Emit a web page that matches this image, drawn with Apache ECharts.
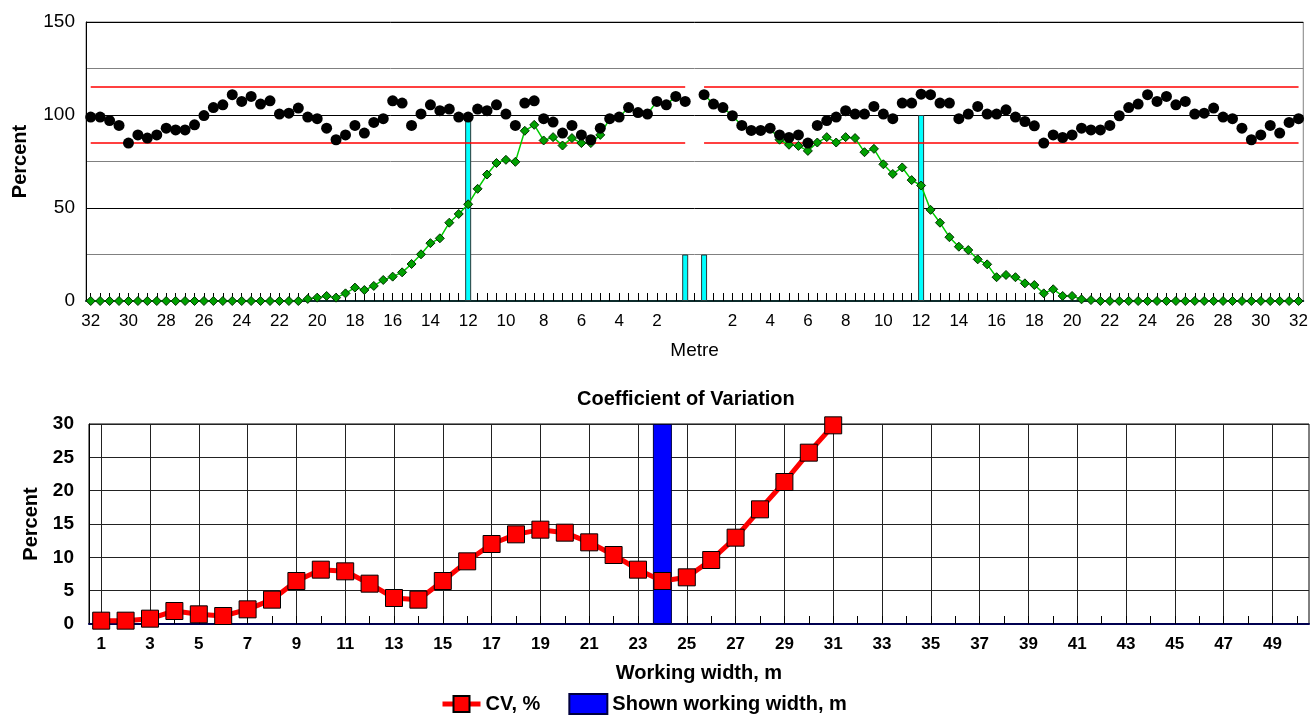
<!DOCTYPE html>
<html>
<head>
<meta charset="utf-8">
<title>Spread pattern and CV</title>
<script src="https://cdn.jsdelivr.net/npm/echarts@6/dist/echarts.min.js"></script>
<style>
  html, body { margin: 0; padding: 0; background: #fff; }
  #chart { width: 1311px; height: 716px; }
</style>
</head>
<body>
<div id="chart"></div>
<script>
// top chart: tray positions every 0.5 m, from -32 to 32 (0 is the tractor path)
var positions = [];
for (var i = 0; i <= 128; i++) {
  positions.push(String(-32 + i * 0.5));
}

// overlapped distribution (black dots)
var overlapped = [
  98.9, 98.9, 97.0, 94.4, 84.9, 89.3, 87.6, 89.3, 92.9, 92.0,
  92.0, 94.7, 99.7, 104.0, 105.5, 110.9, 107.3, 110.0, 105.9, 107.6,
  100.5, 101.0, 103.7, 98.9, 98.0, 92.9, 86.7, 89.3, 94.4, 90.3,
  96.0, 98.0, 107.6, 106.4, 94.4, 100.6, 105.5, 102.3, 103.2, 98.9,
  98.9, 103.2, 102.3, 105.5, 100.5, 94.4, 106.4, 107.6, 98.0, 96.2,
  90.3, 94.4, 89.3, 86.7, 92.9, 98.0, 98.9, 104.0, 101.3, 100.5,
  107.3, 105.5, 110.0, 107.3, null, 110.9, 105.9, 104.0, 99.6, 94.4,
  91.7, 91.7, 92.9, 89.3, 87.9, 89.3, 84.9, 94.4, 97.0, 98.9,
  102.3, 100.5, 100.5, 104.6, 100.5, 98.0, 106.4, 106.4, 111.2, 110.9,
  106.4, 106.4, 98.0, 100.5, 104.6, 100.5, 100.5, 102.8, 98.9, 96.5,
  94.2, 84.9, 89.3, 87.9, 89.3, 92.9, 92.0, 92.0, 94.4, 99.6,
  104.0, 105.9, 110.9, 107.3, 110.0, 105.5, 107.3, 100.5, 101.0, 103.7,
  98.9, 98.0, 92.9, 86.7, 89.3, 94.4, 90.3, 96.0, 98.0
];

// single pass pattern (green diamonds)
var singlePass = [
  0, 0, 0, 0, 0, 0, 0, 0, 0, 0,
  0, 0, 0, 0, 0, 0, 0, 0, 0, 0,
  0, 0, 0, 1.1, 1.8, 2.7, 1.8, 4.1, 7.2, 5.9,
  8.1, 11.3, 13.1, 15.4, 19.9, 25.1, 31.1, 33.7, 42.1, 46.8,
  52.0, 60.3, 68.0, 74.2, 75.9, 74.8, 91.5, 94.7, 86.3, 88.1,
  83.6, 87.6, 84.9, 84.9, 89.3, 98.0, 98.9, 104.0, 101.3, 100.5,
  107.3, 105.5, 110.0, 107.3, null, 110.9, 105.9, 104.0, 99.6, 94.4,
  91.7, 91.7, 92.9, 86.7, 84.0, 83.4, 80.7, 85.2, 88.1, 85.2,
  88.1, 87.6, 80.0, 81.8, 73.5, 68.3, 71.8, 65.0, 62.1, 49.0,
  42.1, 34.3, 29.2, 27.4, 22.4, 19.7, 12.8, 14.0, 12.8, 9.5,
  8.6, 4.1, 6.3, 2.7, 2.7, 0.9, 0.5, 0, 0, 0,
  0, 0, 0, 0, 0, 0, 0, 0, 0, 0,
  0, 0, 0, 0, 0, 0, 0, 0, 0
];

// cyan markers: working width edges and tractor wheels
var markerPositions = ['-12', '-0.5', '0.5', '12'];
var markerHeights = [100, 25, 25, 100];

// +/- 15 % limits, drawn on each side of the tractor path
var limitValues = [85, 115];
var limitSides = [['-32', '-0.5'], ['0.5', '32']];

// bottom chart: working widths 1..50 m
var widths = [];
for (var w = 1; w <= 50; w++) {
  widths.push(String(w));
}
var cvValues = [
  0.5, 0.5, 0.8, 1.95, 1.45, 1.2, 2.2, 3.65, 6.45, 8.15,
  7.9, 6.05, 3.9, 3.65, 6.45, 9.4, 12.0, 13.45, 14.15, 13.7,
  12.25, 10.35, 8.15, 6.45, 7.0, 9.6, 12.95, 17.2, 21.3, 25.7,
  29.8
];
var shownWidth = ['24'];
var shownHeight = [30];

var fontFamily = '"Liberation Sans", Arial, sans-serif';

var markerData = markerPositions.map(function (p, k) {
  return [p, markerHeights[k]];
});
var limitLines = [];
limitValues.forEach(function (v) {
  limitSides.forEach(function (side) {
    limitLines.push([
      { coord: [side[0], v], lineStyle: { color: '#ff0000' } },
      { coord: [side[1], v] }
    ]);
  });
});
var shownData = shownWidth.map(function (p, k) {
  return [p, shownHeight[k]];
});

var chart = echarts.init(document.getElementById('chart'));

var option = {
  animation: false,
  backgroundColor: '#fff',
  textStyle: { fontFamily: fontFamily, color: '#000' },
  title: {
    text: 'Coefficient of Variation',
    left: 577,
    top: 389,
    padding: 0,
    textStyle: { fontFamily: fontFamily, fontSize: 20, fontWeight: 'bold', color: '#000' }
  },
  legend: {
    left: 440,
    top: 693,
    padding: 0,
    itemWidth: 38,
    itemHeight: 20,
    itemGap: 28,
    data: [
      { name: 'CV, %', lineStyle: { width: 5, color: '#ff0000' } },
      { name: 'Shown working width, m', icon: 'rect' }
    ],
    textStyle: { fontFamily: fontFamily, fontSize: 20, fontWeight: 'bold', color: '#000' }
  },
  grid: [
    { left: 86, right: 6, top: 22, bottom: 415, show: true, borderColor: '#808080', borderWidth: 1 },
    { left: 89, right: 2, top: 424, bottom: 92, show: true, borderColor: '#000', borderWidth: 1 }
  ],
  xAxis: [
    {
      type: 'category',
      gridIndex: 0,
      data: positions,
      boundaryGap: true,
      axisLine: { lineStyle: { color: '#0c2c2c', width: 2 } },
      axisTick: {
        show: true, inside: true, alignWithLabel: true, interval: 0, length: 8,
        lineStyle: { color: '#000' }
      },
      axisLabel: {
        interval: 3,
        margin: 12,
        fontSize: 17,
        color: '#000',
        formatter: function (v) {
          var n = Number(v);
          return n === 0 ? '' : String(Math.abs(n));
        }
      },
      splitLine: { show: false },
      name: 'Metre',
      nameLocation: 'middle',
      nameGap: 40,
      nameTextStyle: { fontSize: 19, color: '#000' }
    },
    {
      type: 'category',
      gridIndex: 1,
      data: widths,
      boundaryGap: true,
      axisLine: { lineStyle: { color: '#000050', width: 2 } },
      axisTick: {
        show: true, inside: true, alignWithLabel: true, interval: 0, length: 8,
        lineStyle: { color: '#000' }
      },
      axisLabel: { interval: 1, margin: 12, fontSize: 17, fontWeight: 'bold', color: '#000' },
      splitLine: {
        show: true,
        alignWithLabel: true,
        interval: function (index) { return index % 2 === 0; },
        lineStyle: { color: '#222', width: 1 }
      },
      name: 'Working width, m',
      nameLocation: 'middle',
      nameGap: 39,
      nameTextStyle: { fontSize: 20, fontWeight: 'bold', color: '#000' }
    }
  ],
  yAxis: [
    {
      type: 'value',
      gridIndex: 0,
      min: 0,
      max: 150,
      interval: 25,
      axisLine: { show: true, lineStyle: { color: '#000', width: 1 } },
      axisTick: { show: false },
      axisLabel: {
        margin: 11,
        fontSize: 19,
        color: '#000',
        formatter: function (v) { return v % 50 === 0 ? v : ''; }
      },
      splitLine: { show: true, lineStyle: { color: ['#000', '#808080'], width: 1 } },
      name: 'Percent',
      nameLocation: 'middle',
      nameGap: 56,
      nameTextStyle: { fontSize: 20, fontWeight: 'bold', color: '#000' }
    },
    {
      type: 'value',
      gridIndex: 1,
      min: 0,
      max: 30,
      interval: 5,
      axisLine: { show: true, lineStyle: { color: '#000', width: 1 } },
      axisTick: { show: false },
      axisLabel: { margin: 15, fontSize: 19, fontWeight: 'bold', color: '#000' },
      splitLine: { show: true, lineStyle: { color: '#222', width: 1 } },
      name: 'Percent',
      nameLocation: 'middle',
      nameGap: 48,
      nameTextStyle: { fontSize: 20, fontWeight: 'bold', color: '#000' }
    }
  ],
  series: [
    {
      name: 'Markers',
      type: 'bar',
      xAxisIndex: 0,
      yAxisIndex: 0,
      barWidth: 6,
      z: 1,
      data: markerData,
      itemStyle: { color: '#00ffff', borderColor: '#2a3a3a', borderWidth: 1 },
      markLine: {
        silent: true,
        symbol: 'none',
        z: 2,
        label: { show: false },
        lineStyle: { color: '#ff0000', width: 1.5, type: 'solid', opacity: 1 },
        data: limitLines
      }
    },
    {
      name: 'Single pass',
      type: 'line',
      xAxisIndex: 0,
      yAxisIndex: 0,
      z: 3,
      data: singlePass,
      connectNulls: false,
      symbol: 'diamond',
      symbolSize: 9,
      showAllSymbol: true,
      lineStyle: { color: '#00cc00', width: 1.5 },
      itemStyle: { color: '#00a000', borderColor: '#003000', borderWidth: 1 }
    },
    {
      name: 'Overlapped',
      type: 'scatter',
      xAxisIndex: 0,
      yAxisIndex: 0,
      z: 4,
      data: overlapped,
      symbol: 'circle',
      symbolSize: 11,
      itemStyle: { color: '#000', opacity: 1 }
    },
    {
      name: 'Shown working width, m',
      type: 'bar',
      xAxisIndex: 1,
      yAxisIndex: 1,
      barWidth: 19,
      z: 1,
      data: shownData,
      itemStyle: { color: '#0000ff', borderColor: '#000040', borderWidth: 1 }
    },
    {
      name: 'CV, %',
      type: 'line',
      xAxisIndex: 1,
      yAxisIndex: 1,
      z: 3,
      data: cvValues,
      symbol: 'rect',
      symbolSize: 17,
      showAllSymbol: true,
      lineStyle: { color: '#ff0000', width: 5 },
      itemStyle: { color: '#ff0000', borderColor: '#000', borderWidth: 1 }
    }
  ]
};

chart.setOption(option);
</script>
</body>
</html>
